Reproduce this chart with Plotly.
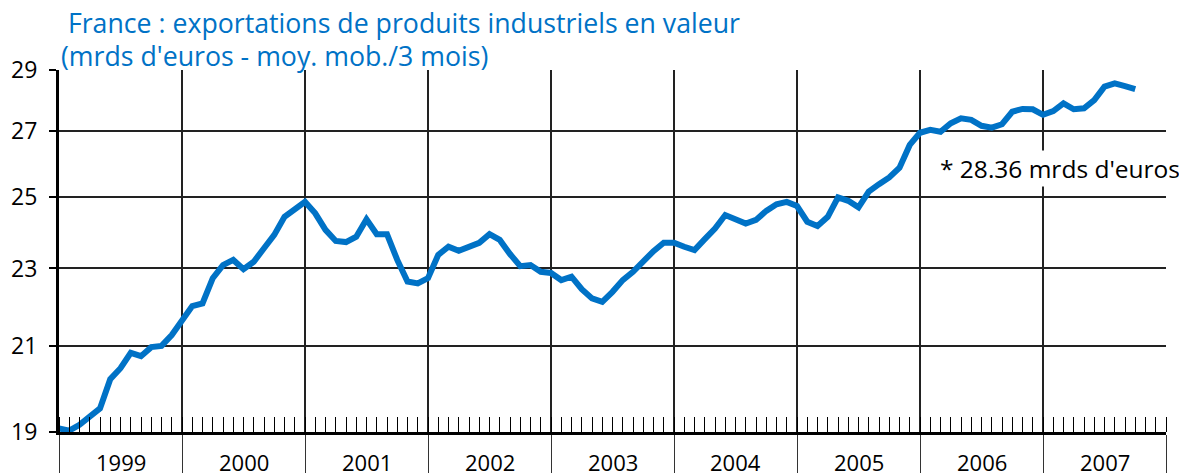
import math
import plotly.graph_objects as go

# Monthly values, Jan 1999 .. Oct 2007 (mrds d'euros, moy. mob. 3 mois)
values = [
    19.08, 19.03, 19.16, 19.34, 19.53, 20.21, 20.47, 20.84, 20.76, 20.98, 21.01, 21.28,
    21.65, 22.01, 22.08, 22.74, 23.09, 23.23, 22.98, 23.18, 23.55, 23.92, 24.43, 24.67,
    24.86, 24.53, 24.06, 23.75, 23.72, 23.87, 24.36, 23.94, 23.94, 23.23, 22.65, 22.60,
    22.74, 23.37, 23.59, 23.48, 23.59, 23.70, 23.94, 23.78, 23.39, 23.06, 23.09, 22.91,
    22.88, 22.69, 22.78, 22.45, 22.21, 22.12, 22.38, 22.69, 22.91, 23.20, 23.47, 23.70,
    23.70, 23.59, 23.50, 23.80, 24.10, 24.48, 24.34, 24.24, 24.34, 24.60, 24.79, 24.86,
    24.74, 24.29, 24.17, 24.43, 24.99, 24.89, 24.70, 25.16, 25.38, 25.58, 25.87, 26.57,
    26.95, 27.04, 26.98, 27.25, 27.41, 27.36, 27.17, 27.11, 27.22, 27.62, 27.71, 27.70,
    27.52, 27.64, 27.89, 27.70, 27.73, 28.00, 28.44, 28.55, 28.46, 28.36,
]
months = list(range(len(values)))  # month index from Jan 1999
years = [1999, 2000, 2001, 2002, 2003, 2004, 2005, 2006, 2007]
y_ticks = [19, 21, 23, 25, 27, 29]

title1 = " France : exportations de produits industriels en valeur"
title2 = "(mrds d'euros - moy. mob./3 mois)"
note = "* 28.36 mrds d'euros"

FONT = "Open Sans"
BLUE = "#0072C6"

fig = go.Figure()
fig.add_trace(go.Scatter(
    x=months, y=values, mode="lines",
    line=dict(color=BLUE, width=6),
    hoverinfo="skip", cliponaxis=False,
))

year_bounds = [12 * i for i in range(len(years) + 1)]

fig.update_layout(
    width=1179, height=473,
    margin=dict(l=59, r=13, t=70, b=41),
    paper_bgcolor="white", plot_bgcolor="white",
    showlegend=False,
    font=dict(family=FONT, color="black", size=21),
    xaxis=dict(
        range=[0, 12 * len(years)], automargin=False,
        tickmode="array", tickvals=year_bounds, ticktext=[""] * len(year_bounds),
        ticks="outside", ticklen=41, tickwidth=1, tickcolor="#333",
        showgrid=True, gridcolor="#222", gridwidth=1.5,
        showline=True, linecolor="black", linewidth=3,
        zeroline=False,
        minor=dict(tickmode="linear", tick0=0, dtick=1, ticks="inside",
                   ticklen=15, tickwidth=1, tickcolor="black", showgrid=False),
    ),
    yaxis=dict(
        type="log", automargin=False,
        range=[math.log10(min(y_ticks)), math.log10(max(y_ticks))],
        tickmode="array", tickvals=y_ticks, ticktext=[str(v) for v in y_ticks],
        ticks="outside", ticklen=7, tickwidth=1.5, tickcolor="black",
        ticklabelstandoff=7,
        tickfont=dict(size=23, family=FONT, color="black"),
        showgrid=True, gridcolor="#222", gridwidth=1.5,
        showline=True, linecolor="black", linewidth=3,
        zeroline=False,
    ),
)

# Year labels centered in each year band
for i, yr in enumerate(years):
    fig.add_annotation(
        x=12 * i + 6, y=-0.082, xref="x", yref="paper",
        text=str(yr), showarrow=False, xanchor="center", yanchor="middle",
        font=dict(size=22, family=FONT, color="black"),
    )

# Title lines
fig.add_annotation(x=0.0, y=1.132, xref="paper", yref="paper", text=title1,
                   showarrow=False, xanchor="left", yanchor="middle",
                   font=dict(size=26.7, family=FONT, color=BLUE, weight=500))
fig.add_annotation(x=0.0, y=1.041, xref="paper", yref="paper", text=title2,
                   showarrow=False, xanchor="left", yanchor="middle",
                   font=dict(size=26.7, family=FONT, color=BLUE, weight=500))

# Last value note
fig.add_annotation(x=0.794, y=0.729, xref="paper", yref="paper", text=note,
                   showarrow=False, xanchor="left", yanchor="middle",
                   bgcolor="white", borderpad=1,
                   font=dict(size=24.5, family=FONT, color="black"))

fig.write_html(
    "out.html",
    config={"displayModeBar": False},
    post_script="document.body.style.margin='0';document.body.style.overflow='hidden';",
)
